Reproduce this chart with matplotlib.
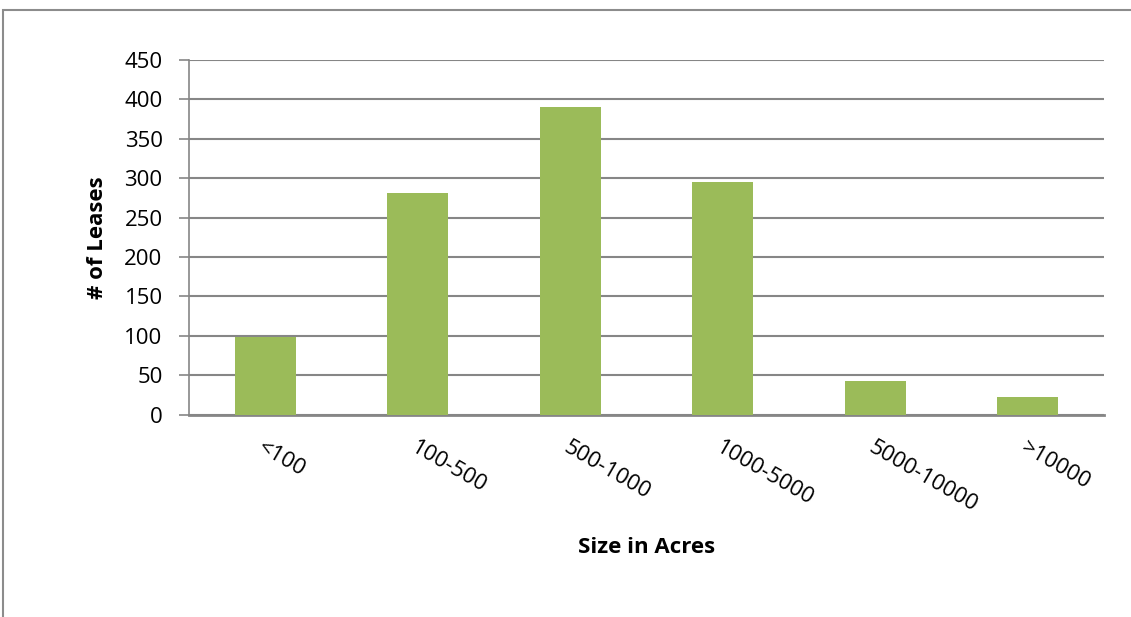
import matplotlib
matplotlib.use("Agg")
import matplotlib.pyplot as plt
from matplotlib.patches import Rectangle

categories = ["<100", "100-500", "500-1000", "1000-5000", "5000-10000", ">10000"]
leases = [98, 281, 390, 295, 43, 23]
y_ticks = [0, 50, 100, 150, 200, 250, 300, 350, 400, 450]

plt.rcParams["font.family"] = ["Open Sans", "DejaVu Sans"]

fig = plt.figure(figsize=(11.31, 6.17), dpi=100)
ax = fig.add_axes([0.1671, 0.3279, 0.8090, 0.5749])

grid_color = "#868686"
x = range(len(categories))
ax.bar(x, leases, width=0.4, color="#9BBB59", zorder=3)

ax.set_xlim(-0.5, len(categories) - 0.5)
ax.set_ylim(0, 450)
ax.set_yticks(y_ticks)
ax.yaxis.grid(True, color=grid_color, linewidth=1.5, zorder=0)
ax.tick_params(axis="y", length=7, width=1.2, color=grid_color, labelsize=16, pad=12)
ax.tick_params(axis="x", length=0, pad=16)

ax.set_xticks(list(x))
ax.set_xticklabels(categories, rotation=-30, ha="left", va="top",
                   rotation_mode="anchor", fontsize=16)

for side in ["top", "right"]:
    ax.spines[side].set_visible(False)
ax.spines["left"].set_color(grid_color)
ax.spines["left"].set_linewidth(1.2)
ax.spines["bottom"].set_color(grid_color)
ax.spines["bottom"].set_linewidth(2)

ax.set_xlabel("Size in Acres", fontsize=16, fontweight="bold")
ax.set_ylabel("# of Leases", fontsize=16, fontweight="bold")
ax.xaxis.set_label_coords(0.5, -0.345)
ax.yaxis.set_label_coords(-0.088, 0.5)

# chart area border (cropped on the right and bottom)
fig.patches.append(Rectangle((3 / 1131, -0.1), 1.2, 1 - 10 / 617 + 0.1,
                             transform=fig.transFigure, fill=False,
                             edgecolor="#8c8c8c", linewidth=1.5))

fig.savefig("out.png", dpi=100)
